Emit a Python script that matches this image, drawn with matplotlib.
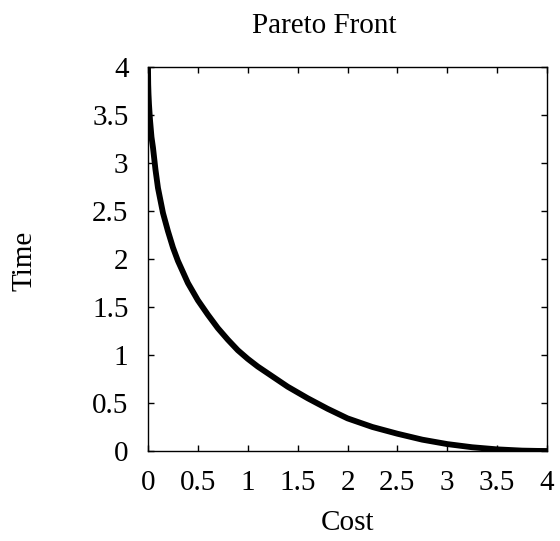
import numpy as np
import matplotlib
matplotlib.use("Agg")
import matplotlib.pyplot as plt

# points (cost, time)
cost = [0.0, 0.002, 0.005, 0.01, 0.02, 0.035, 0.05, 0.075, 0.1, 0.15, 0.2,
        0.25, 0.3, 0.4, 0.5, 0.6, 0.7, 0.8, 0.9, 1.0, 1.1, 1.2, 1.4, 1.6,
        1.8, 2.0, 2.25, 2.5, 2.75, 3.0, 3.25, 3.5, 3.75, 3.9, 4.0]
time = [4.0, 3.82, 3.72, 3.61, 3.45, 3.27, 3.16, 2.93, 2.74, 2.48, 2.29,
        2.12, 1.98, 1.75, 1.57, 1.42, 1.28, 1.16, 1.05, 0.96, 0.88, 0.81,
        0.67, 0.55, 0.44, 0.34, 0.25, 0.18, 0.118, 0.072, 0.039, 0.017,
        0.004, 0.001, 0.0]

xticks = [0, 0.5, 1, 1.5, 2, 2.5, 3, 3.5, 4]
yticks = [0, 0.5, 1, 1.5, 2, 2.5, 3, 3.5, 4]
tick_labels = ["0", "0.5", "1", "1.5", "2", "2.5", "3", "3.5", "4"]

plt.rcParams["font.family"] = ["Liberation Serif", "DejaVu Serif"]
plt.rcParams["font.size"] = 21

fig = plt.figure(figsize=(5.6, 5.41), dpi=100)
ax = fig.add_axes([148 / 560, 1 - 451 / 541, 399 / 560, 384 / 541])

ax.plot(cost, time, color="black", lw=4.2, solid_capstyle="butt",
        solid_joinstyle="round")

ax.set_xlim(0, 4)
ax.set_ylim(0, 4)
ax.set_xticks(xticks)
ax.set_xticklabels(tick_labels)
ax.set_yticks(yticks)
ax.set_yticklabels(tick_labels)
ax.tick_params(direction="in", top=True, right=True, length=4, width=1,
               pad=14, labelsize=21)
for s in ax.spines.values():
    s.set_linewidth(1.0)

fig.text(324 / 560, 1 - 26 / 541, "Pareto Front", ha="center", va="center", fontsize=21)
fig.text(348 / 560, 1 - 523 / 541, "Cost", ha="center", va="center", fontsize=21)
fig.text(25 / 560, 1 - 261 / 541, "Time", ha="center", va="center",
         rotation=90, fontsize=21)

fig.savefig("out.png", dpi=100)
